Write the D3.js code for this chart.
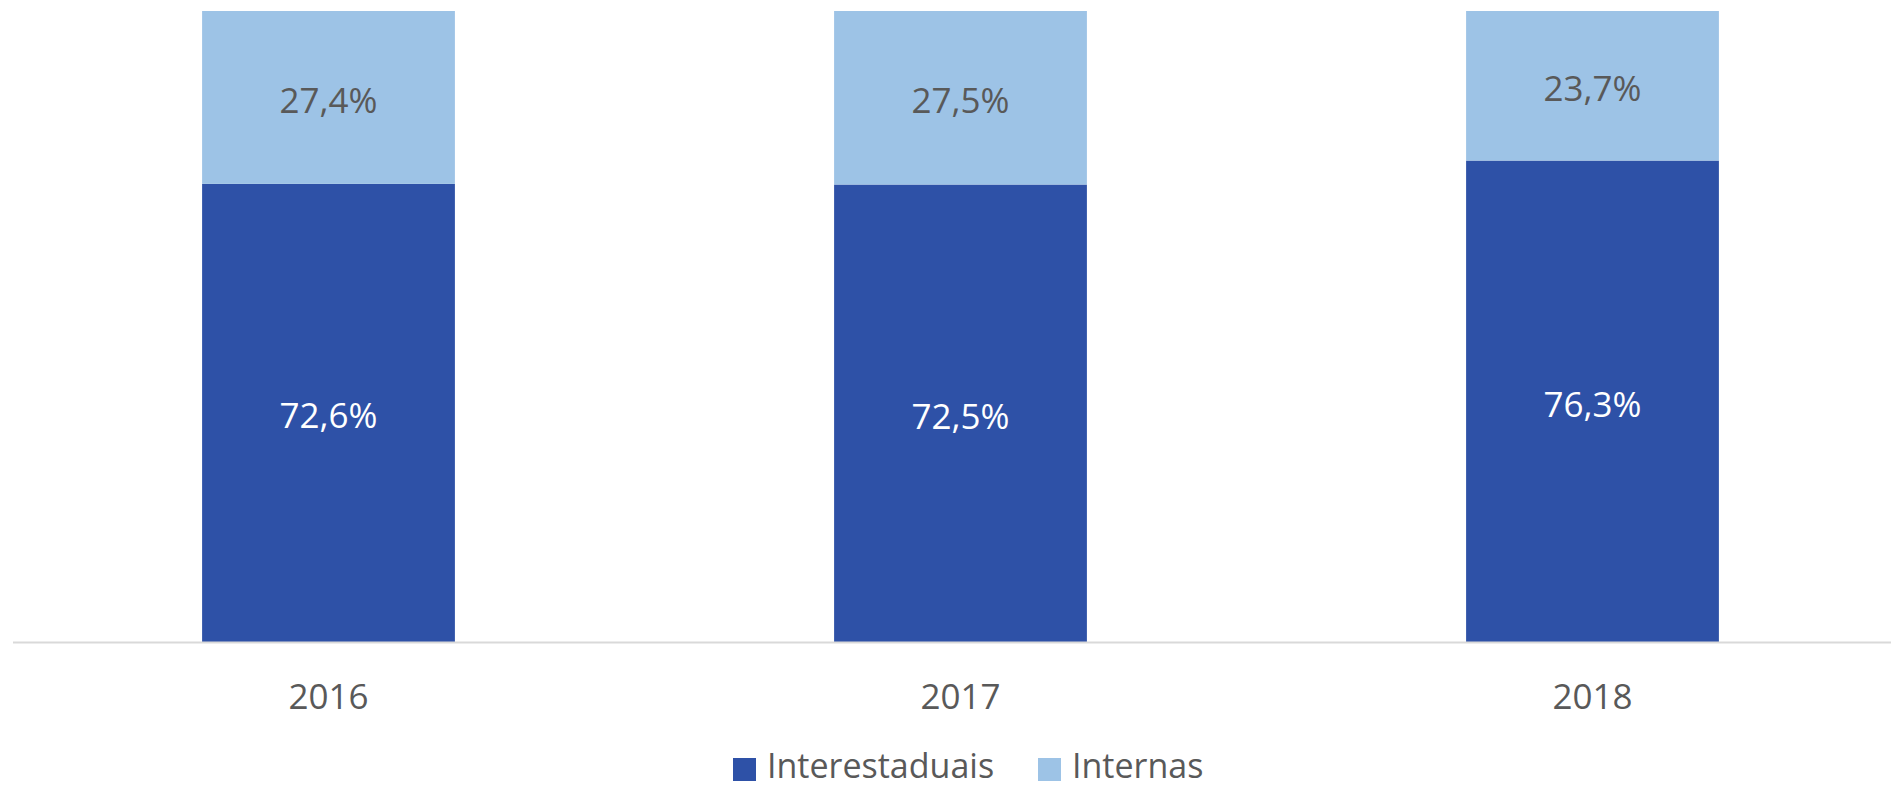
<!DOCTYPE html>
<html>
<head>
<meta charset="utf-8">
<script src="https://cdn.jsdelivr.net/npm/d3@7"></script>
<style>
  html, body { margin: 0; padding: 0; background: #fff; }
  svg { display: block; font-family: "Open Sans", "Noto Sans", sans-serif; }
</style>
</head>
<body>
<svg id="chart" width="1891" height="785"></svg>
<script>
const categories = ["2016", "2017", "2018"];
const seriesNames = ["Interestaduais", "Internas"];
const interestaduais = [72.6, 72.5, 76.3];
const internas = [27.4, 27.5, 23.7];
const colors = ["#2E51A7", "#9DC3E6"];
const labelColors = ["#FFFFFF", "#595959"];

const svg = d3.select("#chart");
const W = 1891, H = 785;

const x = d3.scaleBand().domain(categories).range([12.5, 1908.5])
  .paddingInner(0.6).paddingOuter(0.3);
const y = d3.scaleLinear().domain([0, 100]).range([642, 11]);

const rows = categories.map((c, i) => ({ cat: c, Interestaduais: interestaduais[i], Internas: internas[i] }));
const stacked = d3.stack().keys(seriesNames)(rows);
const fmt = v => d3.format(".1f")(v).replace(".", ",") + "%";

const layers = svg.append("g").selectAll("g").data(stacked).join("g")
  .attr("fill", (d, i) => colors[i]);

layers.selectAll("rect").data(d => d).join("rect")
  .attr("x", d => x(d.data.cat))
  .attr("width", x.bandwidth())
  .attr("y", d => y(d[1]))
  .attr("height", d => y(d[0]) - y(d[1]));

layers.each(function(layer, li) {
  d3.select(this).selectAll("text").data(layer).join("text")
    .attr("x", d => x(d.data.cat) + x.bandwidth() / 2)
    .attr("y", d => (y(d[0]) + y(d[1])) / 2 + 6)
    .attr("text-anchor", "middle")
    .attr("dominant-baseline", "middle")
    .attr("font-size", 35)
    .attr("fill", labelColors[li])
    .text(d => fmt(d[1] - d[0]));
});

// x axis
const xAxis = d3.axisBottom(x).tickSize(0).tickPadding(0);
const gx = svg.append("g").attr("transform", "translate(0,642)").call(xAxis);
gx.select(".domain").remove();
gx.selectAll("text")
  .attr("y", 67)
  .attr("dy", 0)
  .attr("font-size", 35)
  .attr("font-family", "\"Open Sans\", \"Noto Sans\", sans-serif")
  .attr("fill", "#595959");
svg.append("line")
  .attr("x1", 13).attr("x2", W)
  .attr("y1", 642.5).attr("y2", 642.5)
  .attr("stroke", "#D9D9D9").attr("stroke-width", 2);

// legend
const legendItems = [
  { name: seriesNames[0], color: colors[0], sx: 733, tx: 767 },
  { name: seriesNames[1], color: colors[1], sx: 1038, tx: 1072 }
];
const lg = svg.append("g");
legendItems.forEach(it => {
  lg.append("rect").attr("x", it.sx).attr("y", 758).attr("width", 23).attr("height", 23).attr("fill", it.color);
  lg.append("text").attr("x", it.tx).attr("y", 769).attr("dominant-baseline", "middle")
    .attr("font-size", 34).attr("fill", "#595959").text(it.name);
});
</script>
</body>
</html>
